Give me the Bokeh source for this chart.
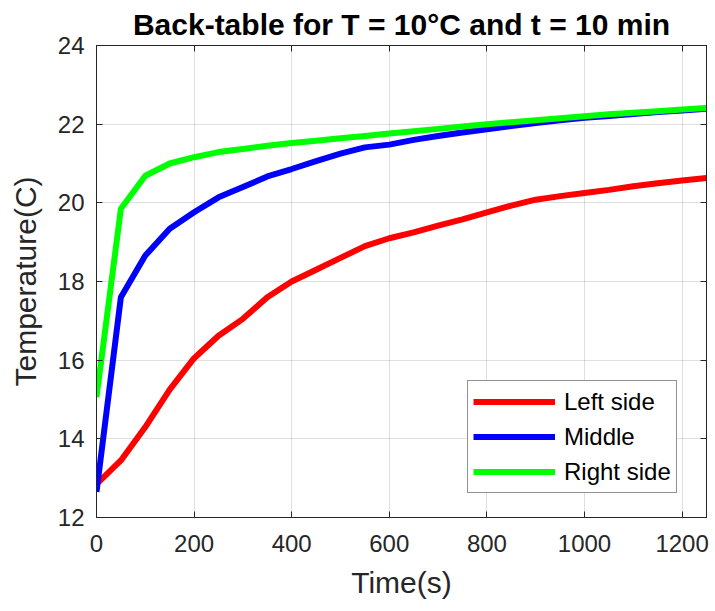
from bokeh.plotting import figure
from bokeh.models import Range1d, LinearAxis, Legend, LegendItem, FixedTicker
from bokeh.embed import file_html
from bokeh.resources import INLINE

time_s = [0, 50, 100, 150, 200, 250, 300, 350, 400, 450, 500, 550, 600, 650, 700,
          750, 800, 850, 900, 950, 1000, 1050, 1100, 1150, 1200, 1250]
left_side = [12.85, 13.45, 14.3, 15.25, 16.05, 16.62, 17.05, 17.6, 18.0, 18.3, 18.6, 18.9, 19.1,
             19.25, 19.42, 19.58, 19.76, 19.93, 20.08, 20.17, 20.25, 20.33, 20.42, 20.5, 20.57, 20.63]
middle = [12.65, 17.6, 18.66, 19.34, 19.76, 20.14, 20.4, 20.67, 20.86, 21.06, 21.25, 21.41, 21.48,
          21.6, 21.7, 21.79, 21.87, 21.95, 22.03, 22.1, 22.16, 22.21, 22.26, 22.31, 22.35, 22.39]
right_side = [15.06, 19.85, 20.69, 21.0, 21.16, 21.29, 21.37, 21.45, 21.52, 21.58, 21.64, 21.7, 21.76,
              21.82, 21.88, 21.94, 22.0, 22.05, 22.1, 22.15, 22.2, 22.25, 22.29, 22.33, 22.37, 22.41]

x_ticks = [0, 200, 400, 600, 800, 1000, 1200]
y_ticks = [12, 14, 16, 18, 20, 22, 24]

series_names = ["Left side", "Middle", "Right side"]
series_colors = ["#ff0000", "#0000ff", "#00ff00"]

AX = "#262626"
FONT = "Liberation Sans"

p = figure(width=715, height=611, output_backend="svg", toolbar_location=None,
           x_range=Range1d(0, 1250), y_range=Range1d(12, 24),
           min_border_left=96, min_border_right=9, min_border_bottom=94, min_border_top=4,
           title="Back-table for T = 10°C and t = 10 min")

p.title.text_font = FONT
p.title.text_font_size = "30px"
p.title.text_font_style = "bold"
p.title.text_color = "#000000"
p.title.align = "center"
p.title.standoff = 10

p.outline_line_color = AX
p.outline_line_width = 1
p.background_fill_color = "white"
p.border_fill_color = "white"

for ax in (p.xaxis[0], p.yaxis[0]):
    ax.axis_line_color = AX
    ax.major_tick_line_color = AX
    ax.major_tick_in = 6
    ax.major_tick_out = 0
    ax.minor_tick_line_color = None
    ax.major_label_text_font = FONT
    ax.major_label_text_font_size = "24px"
    ax.major_label_text_color = AX
    ax.axis_label_text_font = FONT
    ax.axis_label_text_font_size = "30px"
    ax.axis_label_text_font_style = "normal"
    ax.axis_label_text_color = AX

p.xaxis[0].ticker = FixedTicker(ticks=x_ticks)
p.yaxis[0].ticker = FixedTicker(ticks=y_ticks)
p.xaxis[0].axis_label = "Time(s)"
p.yaxis[0].axis_label = "Temperature(C)"
p.xaxis[0].major_label_standoff = 17
p.xaxis[0].axis_label_standoff = 11
p.yaxis[0].major_label_standoff = 12
p.yaxis[0].axis_label_standoff = 13

# box ticks on top / right
top = LinearAxis(ticker=FixedTicker(ticks=x_ticks),
                 major_label_overrides={t: "" for t in x_ticks},
                 major_tick_in=6, major_tick_out=0, minor_tick_line_color=None,
                 axis_line_color=AX, major_tick_line_color=AX, major_label_standoff=0)
right = LinearAxis(ticker=FixedTicker(ticks=y_ticks),
                   major_label_overrides={t: "" for t in y_ticks},
                   major_tick_in=6, major_tick_out=0, minor_tick_line_color=None,
                   axis_line_color=AX, major_tick_line_color=AX, major_label_standoff=0)
p.add_layout(top, "above")
p.add_layout(right, "right")

p.xgrid.ticker = FixedTicker(ticks=x_ticks)
p.ygrid.ticker = FixedTicker(ticks=y_ticks)
for g in (p.xgrid[0], p.ygrid[0]):
    g.grid_line_color = AX
    g.grid_line_alpha = 0.15
    g.grid_line_width = 1

items = []
for name, ys, c in zip(series_names, [left_side, middle, right_side], series_colors):
    r = p.line(time_s, ys, line_color=c, line_width=6)
    items.append(LegendItem(label=name, renderers=[r]))

legend = Legend(items=items, location=(371, 24))
legend.label_text_font = FONT
legend.label_text_font_size = "24px"
legend.label_text_color = "#000000"
legend.glyph_width = 82
legend.glyph_height = 31
legend.label_height = 31
legend.spacing = 4
legend.padding = 5
legend.margin = 0
legend.label_standoff = 9
legend.border_line_color = AX
legend.border_line_width = 1
legend.background_fill_alpha = 1
p.add_layout(legend, "center")

open("out.html", "w").write(file_html(p, INLINE))
